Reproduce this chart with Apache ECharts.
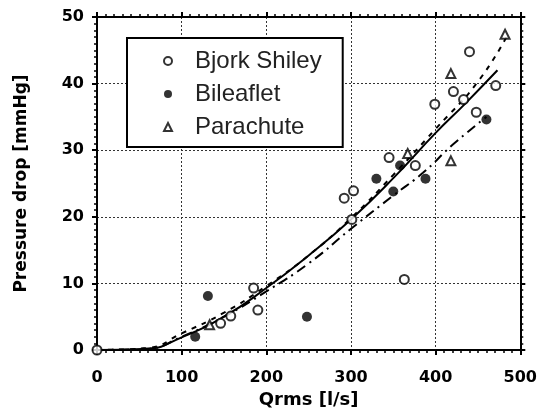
<!DOCTYPE html>
<html>
<head>
<meta charset="utf-8">
<script src="https://cdn.jsdelivr.net/npm/echarts@6/dist/echarts.min.js"></script>
<style>
  html, body { margin: 0; padding: 0; background: #fff; }
  #chart { width: 540px; height: 418px; }
</style>
</head>
<body>
<div id="chart"></div>
<script>
// measured points, [Qrms, pressure drop]
const bjorkShiley = [
  [0, 0], [146, 4.0], [158, 5.1], [185, 9.3], [190, 6.0], [292, 22.8], [301, 19.6],
  [303, 23.9], [345, 28.9], [363, 10.6], [376, 27.7], [399, 36.9], [421, 38.8],
  [433, 37.6], [440, 44.8], [448, 35.7], [471, 39.7]
];
const bileaflet = [
  [116, 2.0], [131, 8.1], [248, 5.0], [330, 25.7], [350, 23.8], [358, 27.7],
  [388, 25.7], [460, 34.6]
];
const parachute = [
  [133, 3.8], [367, 29.5], [418, 28.4], [418, 41.5], [482, 47.4]
];

// fitted curves
const fitAll = [
  [0, 0], [60, 0.2], [100, 1.9], [150, 5.0], [200, 9.3], [250, 14.2], [300, 19.6],
  [350, 25.8], [400, 32.6], [435, 37.0], [473, 42.0]
];
const fitParachute = [
  [0, 0], [60, 0.3], [100, 2.5], [150, 5.6], [200, 9.6], [250, 14.2], [300, 19.8],
  [350, 26.3], [400, 33.2], [450, 40.3], [485, 47.3]
];
const fitBileaflet = [
  [0, 0], [60, 0.2], [100, 2.0], [150, 5.0], [200, 8.8], [250, 13.0], [300, 18.2],
  [350, 23.2], [385, 26.6], [420, 30.8], [460, 35.0]
];

const xTicks = [0, 100, 200, 300, 400, 500];
const yTicks = [0, 10, 20, 30, 40, 50];

const chart = echarts.init(document.getElementById('chart'));

const boldLabel = {
  fontFamily: 'DejaVu Sans',
  fontWeight: 'bold',
  fontSize: 16,
  color: '#000'
};
const dotted = { show: true, lineStyle: { color: '#333', type: [2, 2], width: 1 } };
const xRange = { type: 'value', min: 0, max: 500, interval: 100 };
const yRange = { type: 'value', min: 0, max: 50, interval: 10 };

// frame edge with short ticks (outward ticks are the ones that render here)
function edge(range, position, extra) {
  return Object.assign({}, range, {
    position,
    axisLine: { show: true, onZero: false, lineStyle: { color: '#000', width: 2 } },
    axisTick: { show: true, inside: false, length: 5, lineStyle: { color: '#000', width: 2 } },
    minorTick: { show: true, splitNumber: 10, length: 3, lineStyle: { color: '#000', width: 1.5 } },
    splitLine: { show: false },
    axisLabel: { show: false }
  }, extra || {});
}

chart.setOption({
  animation: false,
  backgroundColor: '#fff',
  grid: { left: 97, right: 17, top: 17, bottom: 68 },
  legend: {
    orient: 'vertical',
    left: 127,
    top: 38,
    padding: [11, 21, 8, 36],
    itemGap: 9,
    itemWidth: 8,
    itemHeight: 8,
    borderColor: '#000',
    borderWidth: 2,
    backgroundColor: '#fff',
    data: ['Bjork Shiley', 'Bileaflet', 'Parachute'],
    textStyle: {
      fontFamily: 'Liberation Sans',
      fontSize: 24,
      color: '#222',
      padding: [0, 0, 0, 18]
    }
  },
  xAxis: [
    edge(xRange, 'bottom', {
      name: 'Qrms [l/s]', nameLocation: 'middle', nameGap: 40,
      nameTextStyle: Object.assign({}, boldLabel, { fontSize: 18 }),
      splitLine: dotted,
      axisLabel: Object.assign({ show: true, margin: 20 }, boldLabel,
        { formatter: v => (xTicks.includes(v) ? String(v) : '') })
    }),
    edge(xRange, 'top')
  ],
  yAxis: [
    edge(yRange, 'left', {
      name: 'Pressure drop [mmHg]', nameLocation: 'middle', nameGap: 67,
      nameTextStyle: Object.assign({}, boldLabel, { fontSize: 17 }),
      splitLine: dotted,
      axisLabel: Object.assign({ show: true, margin: 13 }, boldLabel,
        { formatter: v => (yTicks.includes(v) ? String(v) : '') })
    }),
    edge(yRange, 'right')
  ],
  series: [
    {
      name: 'fit all', type: 'line', data: fitAll, smooth: true, symbol: 'none',
      lineStyle: { color: '#000', width: 2 }, z: 3
    },
    {
      name: 'fit parachute', type: 'line', data: fitParachute, smooth: true, symbol: 'none',
      lineStyle: { color: '#000', width: 2, type: [5, 6] }, z: 3
    },
    {
      name: 'fit bileaflet', type: 'line', data: fitBileaflet, smooth: true, symbol: 'none',
      lineStyle: { color: '#000', width: 2, type: [10, 5, 2, 5] }, z: 3
    },
    {
      name: 'Bjork Shiley', type: 'scatter', data: bjorkShiley, symbol: 'circle',
      symbolSize: 9, clip: false,
      itemStyle: { color: '#fff', borderColor: '#000', borderWidth: 2 }, z: 5
    },
    {
      name: 'Bileaflet', type: 'scatter', data: bileaflet, symbol: 'circle',
      symbolSize: 10, itemStyle: { color: '#000' }, z: 5
    },
    {
      name: 'Parachute', type: 'scatter', data: parachute, symbol: 'triangle',
      symbolSize: 9,
      itemStyle: { color: '#fff', borderColor: '#000', borderWidth: 2 }, z: 5
    }
  ]
});
</script>
</body>
</html>
